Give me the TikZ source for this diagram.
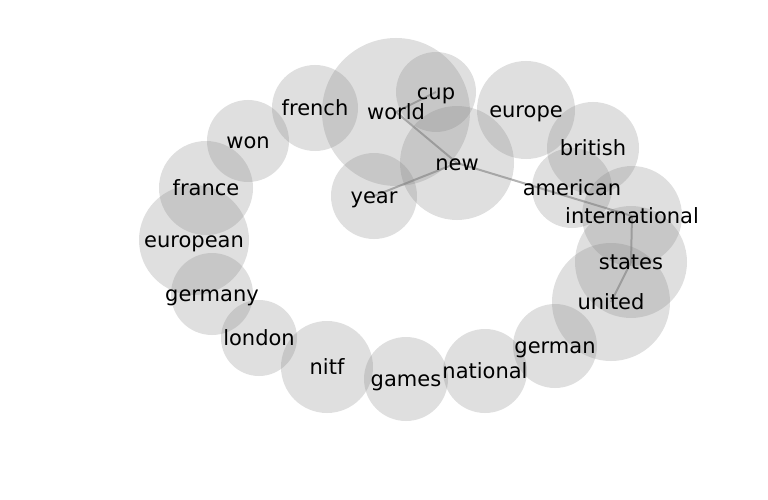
\documentclass[tikz,border=0pt]{standalone}
\usepackage{fontspec}
\setmainfont{DejaVu Sans}
\begin{document}
\begin{tikzpicture}[x=1pt,y=-1pt,
  bub/.style={fill=gray, fill opacity=0.25},
  edge/.style={draw=gray, draw opacity=0.6, line width=2pt},
  lab/.style={anchor=base, inner sep=0pt, font=\fontsize{21}{24}\selectfont, yshift=-7.2pt}]
\useasboundingbox (0,0) rectangle (768,500);
% centres
\coordinate (world) at (396,112);
\coordinate (cup) at (436,92);
\coordinate (new) at (457,163);
\coordinate (year) at (374,196);
\coordinate (french) at (315,108);
\coordinate (europe) at (526,110);
\coordinate (british) at (593,148);
\coordinate (american) at (572,188);
\coordinate (international) at (632,216);
\coordinate (states) at (631,262);
\coordinate (united) at (611,302);
\coordinate (german) at (555,346);
\coordinate (national) at (485,371);
\coordinate (games) at (406,379);
\coordinate (nitf) at (327,367);
\coordinate (london) at (259,338);
\coordinate (germany) at (212,294);
\coordinate (european) at (194,240);
\coordinate (france) at (206,188);
\coordinate (won) at (248,141);
% bubbles
\foreach \n/\r in {world/74,cup/40,new/57,year/43,french/43,europe/49,british/46,american/40,international/50,states/56,united/59,german/42,national/42,games/42,nitf/46,london/38,germany/41,european/55,france/47,won/41}
  \fill[bub] (\n) circle[radius=\r];
% edges
\draw[edge] (cup) -- (world);
\draw[edge] (world) -- (new);
\draw[edge] (new) -- (year);
\draw[edge] (new) -- (international);
\draw[edge] (international) -- (states);
\draw[edge] (states) -- (united);
% labels
\foreach \n in {world,cup,new,year,french,europe,british,american,international,states,united,german,national,games,nitf,london,germany,european,france,won}
  \node[lab] (l-\n) at (\n) {\n};
\end{tikzpicture}
\end{document}
